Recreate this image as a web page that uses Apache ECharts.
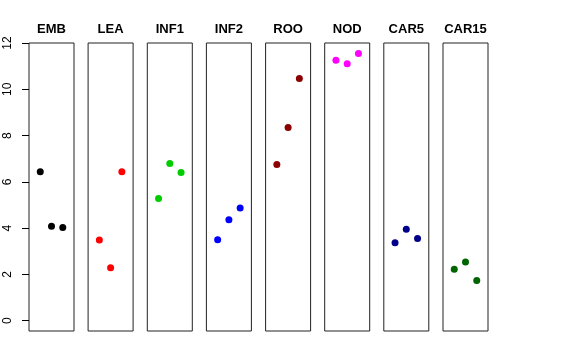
<!DOCTYPE html>
<html><head><meta charset="utf-8">
<script src="https://cdn.jsdelivr.net/npm/echarts@6/dist/echarts.min.js"></script>
<style>html,body{margin:0;padding:0;background:#fff}#c{width:576px;height:360px}</style>
</head><body><div id="c"></div>
<script>
var categories = ["EMB","LEA","INF1","INF2","ROO","NOD","CAR5","CAR15"];
var colors = ["#000000","#FF0000","#00CD00","#0000FF","#8B0000","#FF00FF","#00008B","#006400"];
var EMB = [6.43, 4.08, 4.02];
var LEA = [3.48, 2.28, 6.43];
var INF1 = [5.28, 6.79, 6.40];
var INF2 = [3.50, 4.36, 4.87];
var ROO = [6.75, 8.35, 10.47];
var NOD = [11.25, 11.10, 11.55];
var CAR5 = [3.37, 3.95, 3.55];
var CAR15 = [2.22, 2.53, 1.73];
var yTicks = [0, 2, 4, 6, 8, 10, 12];

(function(){
var values = [EMB, LEA, INF1, INF2, ROO, NOD, CAR5, CAR15];
var font = "Liberation Sans, Arial, Helvetica, sans-serif";
var left0 = 29, step = 59.14, w = 45, gTop = 43, h = 288;
var grids = [], xAxes = [], yAxes = [], series = [];
categories.forEach(function(cat, i){
  var l = Math.round((left0 + i*step)*10)/10;
  grids.push({left: l, top: gTop, width: w, height: h, show: true, borderColor: '#222', borderWidth: 1, backgroundColor: 'transparent'});
  xAxes.push({gridIndex: i, type: 'value', min: 0, max: 4, interval: 1, position: 'top',
    axisLine: {show: false}, axisTick: {show: false}, axisLabel: {show: false}, splitLine: {show: false},
    name: cat, nameLocation: 'middle', nameGap: 7,
    nameTextStyle: {fontSize: 13, fontWeight: 'bold', color: '#000', fontFamily: font}});
  yAxes.push({gridIndex: i, type: 'value', min: -0.45, max: 12, show: false});
  series.push({type: 'scatter', xAxisIndex: i, yAxisIndex: i, symbolSize: 7,
    itemStyle: {color: colors[i], opacity: 1},
    data: values[i].map(function(v, j){ return [j+1, v]; })});
});
var yIdx = grids.length;
grids.push({left: left0, top: gTop, width: 20, height: 277.7, show: false});
xAxes.push({gridIndex: yIdx, type: 'value', min: 0, max: 1, interval: 1, show: false});
yAxes.push({gridIndex: yIdx, type: 'value', min: yTicks[0], max: yTicks[yTicks.length-1], interval: 2,
  axisLine: {show: false},
  axisTick: {show: true, length: 7, lineStyle: {color: '#000'}},
  splitLine: {show: false},
  axisLabel: {show: true, rotate: 90, margin: 15, fontSize: 12, color: '#000', fontFamily: font}});

var chart = echarts.init(document.getElementById('c'), null, {renderer: 'canvas'});
chart.setOption({
  animation: false,
  grid: grids,
  xAxis: xAxes,
  yAxis: yAxes,
  series: series
});
})();
</script></body></html>
